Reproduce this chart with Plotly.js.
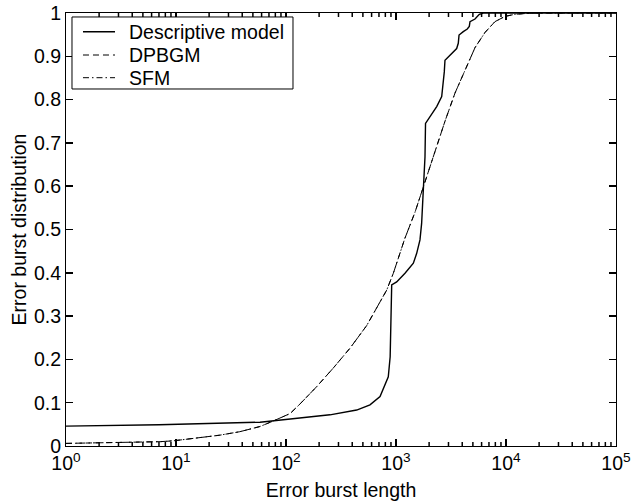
<!DOCTYPE html>
<html>
<head>
<meta charset="utf-8">
<script src="https://cdn.plot.ly/plotly-3.0.1.min.js"></script>
<style>html,body{margin:0;padding:0;background:#fff;}#chart{width:632px;height:502px;}</style>
</head>
<body>
<div id="chart"></div>
<script>
// Descriptive model
const descX = [1, 7, 58, 134, 251, 439, 580, 716, 851, 885, 914, 1014, 1207, 1438, 1542, 1652, 1710, 1771, 1835, 1855, 2037, 2344, 2603, 2692, 2748, 2788, 3208, 3561, 3683, 3741, 4089, 4446, 4638, 4707, 5227, 5530, 5720, 6223, 100000];
const descY = [0.046, 0.049, 0.055, 0.064, 0.072, 0.083, 0.095, 0.114, 0.160, 0.206, 0.372, 0.379, 0.399, 0.422, 0.445, 0.476, 0.514, 0.591, 0.668, 0.745, 0.760, 0.784, 0.807, 0.838, 0.864, 0.891, 0.907, 0.918, 0.930, 0.949, 0.957, 0.963, 0.969, 0.980, 0.986, 0.992, 0.997, 1.0, 1.0];
// DPBGM
const dpbgmX = [1, 4.1, 7.2, 9.5, 20.4, 25, 38, 58, 77, 109, 134, 190, 269, 382, 541, 767, 823, 946, 1202, 1489, 1835, 2244, 2788, 3437, 4246, 5227, 6440, 7930, 9770, 12000, 16400, 22500, 100000];
const dpbgmY = [0.006, 0.0085, 0.010, 0.012, 0.0215, 0.025, 0.033, 0.045, 0.058, 0.075, 0.097, 0.137, 0.180, 0.226, 0.278, 0.345, 0.360, 0.399, 0.479, 0.540, 0.610, 0.680, 0.750, 0.815, 0.870, 0.920, 0.955, 0.980, 0.992, 0.997, 0.9995, 1.0, 1.0];
// SFM
const sfmX = [1, 4.1, 7.2, 9.5, 20.4, 25, 38, 58, 77, 109, 134, 190, 269, 382, 541, 767, 823, 946, 1202, 1489, 1835, 2244, 2788, 3437, 4246, 5227, 6440, 7930, 9770, 12000, 16400, 22500, 100000];
const sfmY = [0.006, 0.0085, 0.010, 0.012, 0.0215, 0.025, 0.033, 0.045, 0.058, 0.075, 0.097, 0.137, 0.180, 0.226, 0.278, 0.345, 0.360, 0.399, 0.479, 0.540, 0.610, 0.680, 0.750, 0.815, 0.870, 0.920, 0.955, 0.980, 0.992, 0.997, 0.9995, 1.0, 1.0];

const seriesNames = ['Descriptive model', 'DPBGM', 'SFM'];

const xTickVals = [1, 10, 100, 1000, 10000, 100000];
const xTickText = ['10<sup>0</sup>', '10<sup>1</sup>', '10<sup>2</sup>', '10<sup>3</sup>', '10<sup>4</sup>', '10<sup>5</sup>'];
const xMinorTickVals = [2, 3, 4, 5, 6, 7, 8, 9, 20, 30, 40, 50, 60, 70, 80, 90, 200, 300, 400, 500, 600, 700, 800, 900,
  2000, 3000, 4000, 5000, 6000, 7000, 8000, 9000, 20000, 30000, 40000, 50000, 60000, 70000, 80000, 90000];
const yTickVals = [0, 0.1, 0.2, 0.3, 0.4, 0.5, 0.6, 0.7, 0.8, 0.9, 1];
const yTickText = ['0', '0.1', '0.2', '0.3', '0.4', '0.5', '0.6', '0.7', '0.8', '0.9', '1'];

const FONT = 'Liberation Sans, Arial, Helvetica, sans-serif';
const FS = 19.5;

const styles = [
  {color: '#000', width: 1.4, dash: 'solid'},
  {color: '#000', width: 1, dash: '6px,4px'},
  {color: '#000', width: 1, dash: '6px,3px,1.5px,3px'}
];

const traces = [
  {x: descX, y: descY, name: seriesNames[0], mode: 'lines', line: styles[0]},
  {x: dpbgmX, y: dpbgmY, name: seriesNames[1], mode: 'lines', line: styles[1]},
  {x: sfmX, y: sfmY, name: seriesNames[2], mode: 'lines', line: styles[2]}
];

// Minor tick marks on the log x axis (bottom and top), drawn as paper-referenced shapes
const PH = 433;
const XRANGE = [0, 5], YRANGE = [0, 1];
const shapes = [];
function xFrac(v) { return (Math.log10(v) - XRANGE[0]) / (XRANGE[1] - XRANGE[0]); }
function tickLine(x0, x1, y0, y1) {
  shapes.push({type: 'line', xref: 'paper', yref: 'paper', x0: x0, x1: x1, y0: y0, y1: y1,
               line: {color: '#000', width: 1.5}, layer: 'above'});
}
xMinorTickVals.forEach(v => { const f = xFrac(v); tickLine(f, f, 0, 4 / PH); tickLine(f, f, 1 - 4 / PH, 1); });

// Manual legend (paper coordinates)
const legRows = [0.9568, 0.9030, 0.8506];
shapes.push({type: 'rect', xref: 'paper', yref: 'paper', x0: 0.0109, x1: 0.4127, y0: 0.8245, y1: 0.9908,
   line: {color: '#000', width: 1}, fillcolor: '#fff', layer: 'above'});
const annotations = [];
legRows.forEach((yy, i) => {
  shapes.push({type: 'line', xref: 'paper', yref: 'paper', x0: 0.0309, x1: 0.0891, y0: yy, y1: yy,
               line: {color: '#000', width: styles[i].width, dash: styles[i].dash}, layer: 'above'});
  annotations.push({xref: 'paper', yref: 'paper', x: 0.1109, y: yy, xanchor: 'left', yanchor: 'middle',
                    text: seriesNames[i], showarrow: false, font: {family: FONT, size: FS, color: '#000'}});
});

const layout = {
  width: 632, height: 502,
  margin: {l: 66, r: 16, t: 13, b: 56},
  paper_bgcolor: '#fff', plot_bgcolor: '#fff',
  font: {family: FONT, size: FS, color: '#000'},
  showlegend: false,
  shapes: shapes,
  annotations: annotations,
  xaxis: {
    type: 'log', range: XRANGE, tickmode: 'array', tickvals: xTickVals, ticktext: xTickText,
    ticks: 'inside', ticklen: 7, tickwidth: 1.5, tickcolor: '#000', showline: true, linecolor: '#000', linewidth: 1, mirror: 'ticks',
    showgrid: false, zeroline: false, tickfont: {family: FONT, size: FS, color: '#000'},
    title: {text: 'Error burst length', font: {family: FONT, size: FS, color: '#000'}, standoff: 9}
  },
  yaxis: {
    range: YRANGE, tickmode: 'array', tickvals: yTickVals, ticktext: yTickText,
    ticks: 'inside', ticklen: 7, tickwidth: 1.5, tickcolor: '#000', showline: true, linecolor: '#000', linewidth: 1, mirror: 'ticks',
    showgrid: false, zeroline: false, tickfont: {family: FONT, size: FS, color: '#000'},
    title: {text: 'Error burst distribution', font: {family: FONT, size: FS, color: '#000'}, standoff: 2}
  }
};

Plotly.newPlot('chart', traces, layout, {staticPlot: true, displayModeBar: false});
</script>
</body>
</html>
